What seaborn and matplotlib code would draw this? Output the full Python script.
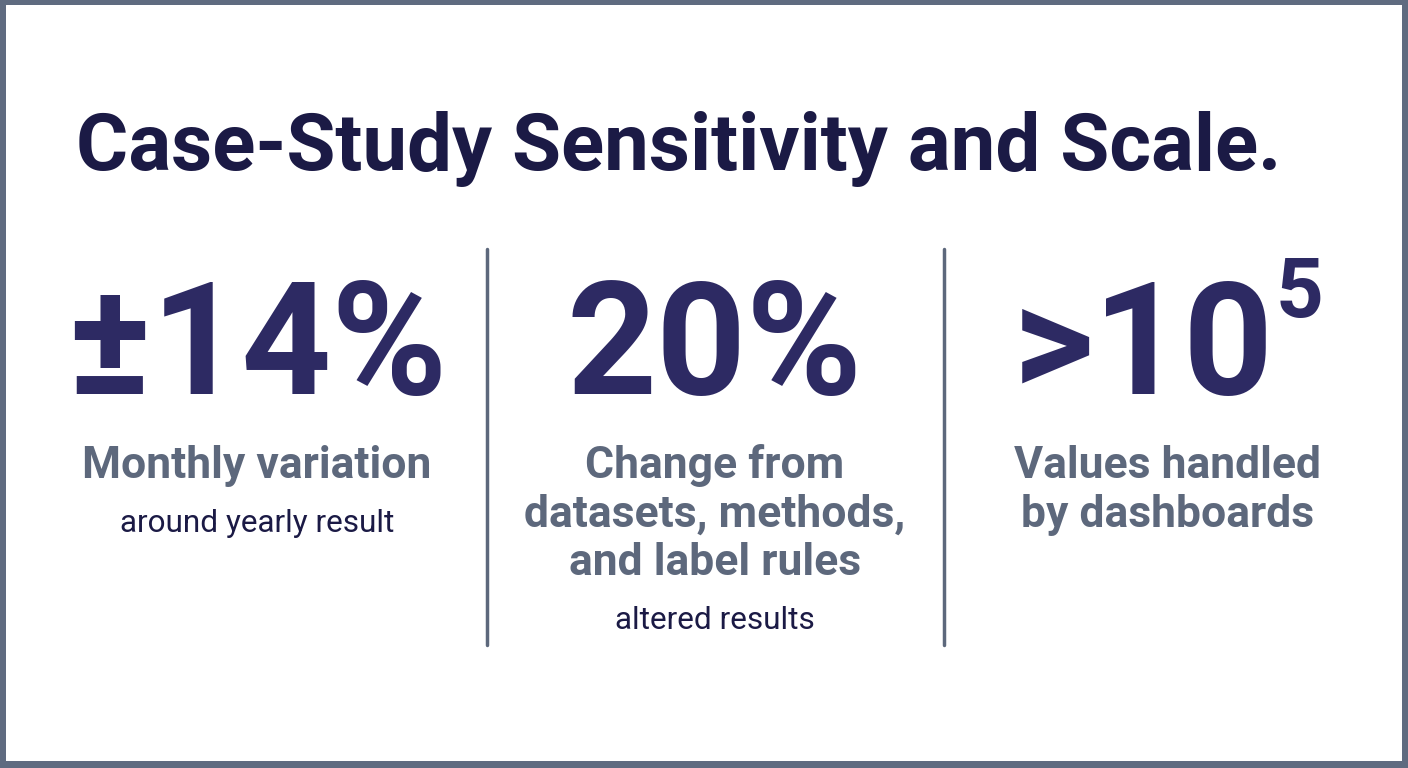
import matplotlib
matplotlib.use("Agg")
import matplotlib.pyplot as plt
import seaborn as sns
import pandas as pd

# stat cards
stat_values = ["±14%", "20%", ">10"]
stat_sups = ["", "", "5"]
stat_labels = [["Monthly variation"],
               ["Change from", "datasets, methods,", "and label rules"],
               ["Values handled", "by dashboards"]]
stat_notes = ["around yearly result", "altered results", ""]
title = "Case-Study Sensitivity and Scale."

# layout in pixel units
col_x = [257, 715, 1168]
divider_x = [487, 944]

sns.set_theme(style="white")
plt.rcParams['font.family'] = ['Roboto', 'DejaVu Sans']

fig = plt.figure(figsize=(14.08, 7.68), dpi=100)
fig.patch.set_facecolor("#5f6b80")
ax = fig.add_axes([6 / 1408, 7 / 768, 1396 / 1408, 756 / 768])
ax.set_facecolor("white")

navy = "#1b1a45"
purple = "#2d2a63"
slate = "#5d687c"

# vertical dividers
div = pd.DataFrame({"x": [divider_x[0], divider_x[0], divider_x[1], divider_x[1]],
                    "y": [250, 647, 250, 647],
                    "g": ["a", "a", "b", "b"]})
for g, d in div.groupby("g"):
    sns.lineplot(data=d, x="x", y="y", ax=ax, color=slate, lw=2.5,
                 sort=False, estimator=None, legend=False)
ax.set_xlim(6, 1402)
ax.set_ylim(763, 5)
ax.set_axis_off()
ax.add_patch(plt.Rectangle((6, 5), 1396, 758, color="white", zorder=0))

ax.text(76, 170, title, fontsize=57.5, fontweight="bold", color=navy,
        ha="left", va="baseline")

fig.canvas.draw()
renderer = fig.canvas.get_renderer()

for i, cx in enumerate(col_x):
    if stat_sups[i]:
        t = ax.text(0, 395, stat_values[i], fontsize=113, fontweight="bold",
                    color=purple, ha="left", va="baseline")
        s = ax.text(0, 318, stat_sups[i], fontsize=60, fontweight="bold",
                    color=purple, ha="left", va="baseline")
        wt = t.get_window_extent(renderer).width
        ws = s.get_window_extent(renderer).width
        gap = 2
        left = cx - (wt + gap + ws) / 2
        t.set_x(left)
        s.set_x(left + wt + gap)
    else:
        ax.text(cx, 395, stat_values[i], fontsize=113, fontweight="bold",
                color=purple, ha="center", va="baseline")
    y = 479
    for line in stat_labels[i]:
        ax.text(cx, y, line, fontsize=32, fontweight="bold", color=slate,
                ha="center", va="baseline")
        y += 49
    if stat_notes[i]:
        ax.text(cx, y + 5, stat_notes[i], fontsize=22.7, color=navy,
                ha="center", va="baseline")

fig.savefig("out.png", dpi=100, facecolor=fig.get_facecolor())
